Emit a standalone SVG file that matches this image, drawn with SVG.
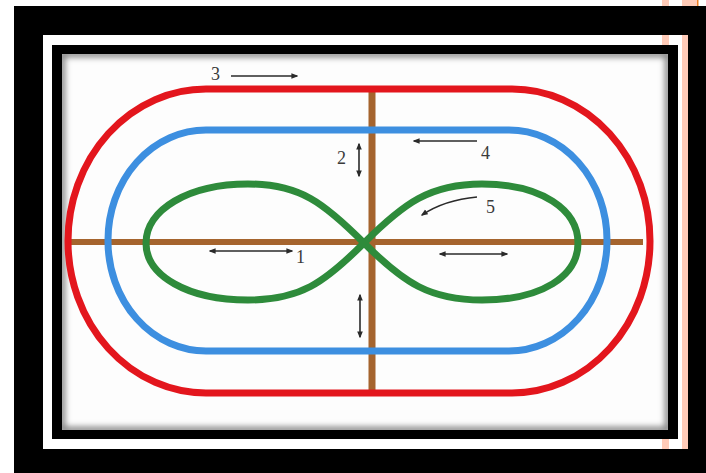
<svg xmlns="http://www.w3.org/2000/svg" width="706" height="473" viewBox="0 0 706 473">
<style>
.lbl{font-family:"Liberation Serif","Times New Roman",serif;font-size:18px;fill:#3a3a3a}
.arr{stroke:#2a2a2a;stroke-width:1.6;fill:none}
.trk{fill:none;stroke-width:7;stroke-linejoin:round}
</style>
<defs>
<marker id="ah" viewBox="0 0 10 10" refX="8" refY="5" markerWidth="7" markerHeight="7" orient="auto-start-reverse" markerUnits="userSpaceOnUse">
<path d="M0,1 L10,5 L0,9 Z" fill="#2a2a2a"/>
</marker>
<filter id="blur" x="-5%" y="-5%" width="110%" height="110%"><feGaussianBlur stdDeviation="3"/></filter>
<clipPath id="inner"><rect x="62" y="54" width="606" height="376"/></clipPath>
</defs>
<rect width="706" height="473" fill="#ffffff"/>
<rect x="14" y="6" width="692" height="467" fill="#000000"/>
<rect x="43" y="35" width="645" height="414" fill="#ffffff"/>
<rect x="52" y="45" width="626" height="394" fill="#000000"/>
<g id="frame-decor" fill="#ffcbb8">
<rect x="662" y="0" width="7" height="6"/>
<rect x="682" y="0" width="15" height="6"/>
<rect x="662" y="35" width="7" height="10"/>
<rect x="662" y="439" width="7" height="10"/>
<rect x="682" y="35" width="6" height="414"/>
<rect x="697" y="0" width="1.5" height="6" fill="#f08020"/>
</g>
<rect x="62" y="54" width="606" height="376" fill="#fdfdfd"/>
<g clip-path="url(#inner)">
<rect x="62" y="54" width="606" height="376" fill="none" stroke="#7a7a7a" stroke-width="6" filter="url(#blur)"/>
</g>
<g id="axes">
<line x1="70" y1="242" x2="643" y2="242" stroke="#a5642e" stroke-width="6"/>
<line x1="372" y1="92" x2="372" y2="390" stroke="#a5642e" stroke-width="7"/>
</g>
<g id="track-3">
<rect class="trk" x="68" y="89" width="582" height="304" rx="138" ry="152" stroke="#e3161d" stroke-width="7.5"/>
</g>
<g id="track-4">
<rect class="trk" x="108" y="130" width="499" height="221" rx="98" ry="110" stroke="#3d8fe0"/>
</g>
<g id="track-5">
<path class="trk" stroke="#2e8b3b" d="M364,243 C404,203 430,184 482,184 C542,184 578,210 578,243 C578,276 542,300 482,300 C430,300 404,283 364,243 C324,203 300,184 248,184 C188,184 146,210 146,243 C146,276 188,300 248,300 C300,300 324,283 364,243 Z"/>
</g>
<g id="connectors">
<line class="arr" x1="231" y1="76" x2="297" y2="76" marker-end="url(#ah)"/>
<line class="arr" x1="477" y1="141" x2="414" y2="141" marker-end="url(#ah)"/>
<line class="arr" x1="359" y1="144" x2="359" y2="176" marker-start="url(#ah)" marker-end="url(#ah)"/>
<path class="arr" d="M477,197 C455,199 437,205 422,215" marker-end="url(#ah)"/>
<line class="arr" x1="210" y1="251" x2="292" y2="251" marker-start="url(#ah)" marker-end="url(#ah)"/>
<line class="arr" x1="440" y1="254" x2="507" y2="254" marker-start="url(#ah)" marker-end="url(#ah)"/>
<line class="arr" x1="360" y1="295" x2="360" y2="337" marker-start="url(#ah)" marker-end="url(#ah)"/>
</g>
<g id="labels">
<text class="lbl" x="211" y="80">3</text>
<text class="lbl" x="337" y="164">2</text>
<text class="lbl" x="481" y="159">4</text>
<text class="lbl" x="486" y="213">5</text>
<text class="lbl" x="296" y="263">1</text>
</g>
</svg>
